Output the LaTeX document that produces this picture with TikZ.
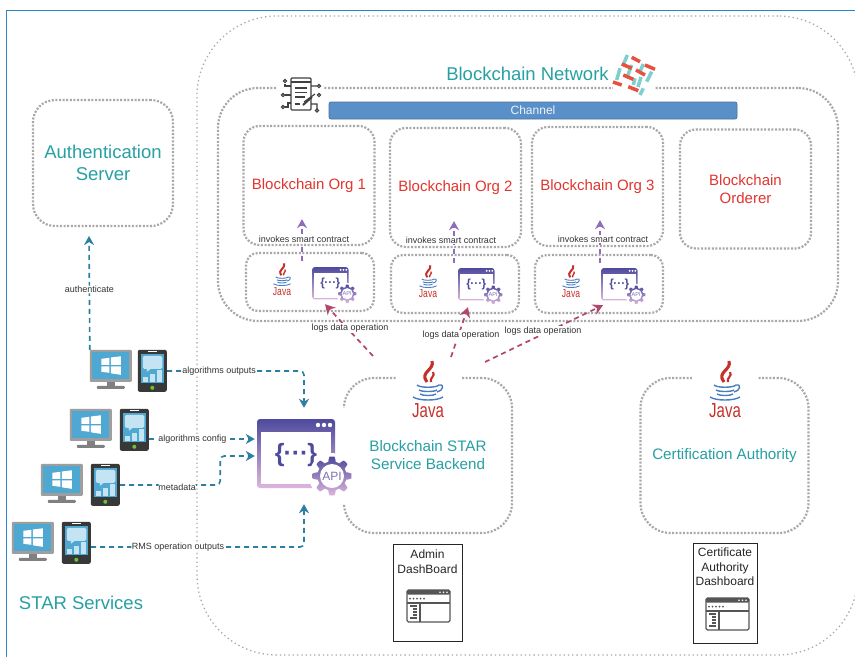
\documentclass[tikz,border=0pt]{standalone}
\usepackage{fontspec}
\setmainfont{Liberation Sans}
\usetikzlibrary{arrows.meta}

\definecolor{framecol}{HTML}{2A86C8}
\definecolor{dotcol}{HTML}{A8A8A8}
\definecolor{tealcol}{HTML}{27A0A4}
\definecolor{orgred}{HTML}{E2352F}
\definecolor{linkteal}{HTML}{2C7F9F}
\definecolor{linkpurple}{HTML}{8F6DBB}
\definecolor{linkred}{HTML}{B2476C}
\definecolor{barblue}{HTML}{5A90C8}
\definecolor{apitop}{HTML}{4E4A9C}
\definecolor{apibot}{HTML}{DDB6DE}
\definecolor{javared}{HTML}{C5302B}
\definecolor{javablue}{HTML}{4A7CC0}
\definecolor{screenblue}{HTML}{4FA8D2}
\definecolor{screenpale}{HTML}{C4E4F3}
\definecolor{iconbar}{HTML}{555555}
\definecolor{logoteal}{HTML}{7FCFD0}
\definecolor{logored}{HTML}{E8503F}

\tikzset{
    pics/javaicon/.style={code={
        \draw[javared, line width=2.2*#1] (4,-31) .. controls (7,-22) and (-9,-20) .. (-1,-10);
        \draw[javared, line width=1.5*#1] (5,-20) .. controls (8,-16) and (1,-14) .. (3,-10);
        \draw[javablue, line width=#1] (-11,-7) .. controls (-8,-4) and (8,-4) .. (11,-7);
        \draw[javablue, line width=#1] (-9,-2) .. controls (-6,0) and (6,0) .. (9,-2);
        \draw[javablue, line width=#1] (-8,2) .. controls (-5,4) and (5,4) .. (8,2);
        \draw[javablue, line width=#1] (-15,5) .. controls (-9,9) and (9,9) .. (15,5);
        \draw[javablue, line width=#1] (11,-7) .. controls (17,-8) and (15,-1) .. (9,0);
        \node[transform shape, yscale=1.35, text=javared, inner sep=0, font=\fontsize{15}{16}\selectfont] at (0,19) {Java};
    }},
    pics/apiicon/.style={code={
        \shade[top color=apitop, bottom color=apibot, rounded corners=3pt] (0,0) rectangle (78,69);
        \fill[white] (4,13) rectangle (74,65);
        \fill[white] (61,6) circle (2.2) (67,6) circle (2.2) (73,6) circle (2.2);
        \node[transform shape, text=apitop, inner sep=0, font=\fontsize{25}{25}\selectfont\bfseries] at (39,36) {\{\kern-1pt···\kern-1pt\}};
        \fill[white] (75,57) circle (23);
        \begin{scope}[shift={(75,57)}]
            \shade[top color=apitop, bottom color=apibot] plot[domain=0:360, samples=145] (\x:{17+2.5*max(min(2*cos(8*\x),1),-1)}) -- cycle;
            \fill[white] (0,0) circle (12);
            \node[transform shape, text=apitop!65!apibot, inner sep=0, font=\fontsize{12}{12}\selectfont] at (0,0) {API};
        \end{scope}
    }},
    pics/desktopicon/.style={code={
        \fill[black!38, rounded corners=1pt] (0,0) rectangle (42,32);
        \fill[screenblue] (2.5,2.5) rectangle (39.5,29);
        \fill[white] (11.5,9) -- (19.5,8) -- (19.5,15) -- (11.5,15) -- cycle;
        \fill[white] (21,7.7) -- (31,6.5) -- (31,15) -- (21,15) -- cycle;
        \fill[white] (11.5,16.5) -- (19.5,16.5) -- (19.5,23) -- (11.5,22) -- cycle;
        \fill[white] (21,16.5) -- (31,16.5) -- (31,25) -- (21,23.5) -- cycle;
        \fill[black!50] (17,32) rectangle (25,36);
        \fill[black!50, rounded corners=1pt] (7,36) rectangle (35,39);
    }},
    pics/phoneicon/.style={code={
        \fill[black!78, rounded corners=2pt] (0,0) rectangle (29,42);
        \fill[white] (10,1.5) rectangle (19,2.5);
        \fill[screenblue] (3,4) rectangle (26,33.5);
        \fill[screenpale, rounded corners=1.5pt] (5,6) rectangle (24.5,19);
        \fill[screenpale] (9,19) -- (13,19) -- (9,22) -- cycle;
        \fill[screenpale] (5,27) rectangle (10,32);
        \fill[screenpale] (12,24) rectangle (17,32);
        \fill[screenpale] (19,20) rectangle (24,32);
        \fill[green!60!yellow!70!black!80!white] (14.5,38) circle (2);
    }},
    pics/dashicon/.style={code={
        \draw[iconbar, line width=1.1pt, fill=white, rounded corners=1.5pt] (0,0) rectangle (43,32);
        \fill[iconbar, rounded corners=1pt] (0,0) rectangle (43,4.5);
        \fill[white] (33,2.2) circle (.8) (36.5,2.2) circle (.8) (40,2.2) circle (.8);
        \fill[iconbar] (3,8.5) circle (1) (6.5,8.5) circle (1) (10,8.5) circle (1) (13.5,8.5) circle (1) (17,8.5) circle (1);
        \draw[iconbar, line width=1.1pt] (0,13) -- (43,13) (13,13) -- (13,32);
        \draw[iconbar, line width=1.1pt] (3,16) -- (10,16) (6,19) -- (10,19) (6,22) -- (10,22) (6,25) -- (10,25) (3,28) -- (10,28);
    }}
}

\begin{document}
\begin{tikzpicture}[
    x=1pt, y=-1pt,
    outerbox/.style={draw=dotcol, line width=1.3pt, dash pattern=on 1.3pt off 3pt, rounded corners=80pt, inner sep=0},
    dotbox/.style={draw=dotcol, line width=2.2pt, dash pattern=on 2pt off 1.6pt, inner sep=0, align=center},
    orgbox/.style={dotbox, rounded corners=16pt, minimum width=131pt, minimum height=119pt, text=orgred, font=\fontsize{15}{18}\selectfont},
    callbox/.style={dotbox, rounded corners=12pt, minimum width=128pt, minimum height=58pt},
    svcbox/.style={dotbox, rounded corners=30pt, minimum width=168pt, minimum height=155pt, text=tealcol, font=\fontsize{15.2}{18}\selectfont},
    dashbox/.style={draw=black!85, line width=.8pt, inner sep=0, fill=white},
    dashtext/.style={inner sep=0, align=center, text=black!85, font=\fontsize{12}{14.5}\selectfont},
    iconspot/.style={inner sep=0, minimum width=#1},
    whitespot/.style={inner sep=0, fill=white},
    titletext/.style={inner sep=0, text=tealcol, align=center, font=\fontsize{18.5}{22}\selectfont},
    linklabel/.style={fill=white, inner sep=.6pt, text=black!80, font=\fontsize{9}{10}\selectfont},
    linkarrow/.style={dash pattern=on 5pt off 4pt, line width=1.6pt, draw=linkteal, rounded corners=4pt, -{Stealth[length=9pt, width=10pt]}},
    callarrow/.style={dash pattern=on 5pt off 4pt, line width=1.6pt, draw=linkpurple, shorten <=-9pt, shorten >=-27pt, -{Stealth[length=9pt, width=10pt]}},
    logarrow/.style={dash pattern=on 5pt off 4pt, line width=1.7pt, draw=linkred, -{Stealth[length=10pt, width=11pt]}}
]
\useasboundingbox[fill=white] (0,0) rectangle (855,657);

% Page frame
\draw[framecol, line width=1.5pt] (6.5,657) -- (6.5,10.5) -- (855,10.5);

% Network and channel groups
\node[outerbox, minimum width=661pt, minimum height=639pt] (network) at (527.5,335.5) {};
\node[dotbox, rounded corners=40pt, minimum width=620pt, minimum height=233pt] (channelgrp) at (528,204.5) {};
\node[titletext] (nettitle) at (527.5,74) {Blockchain Network};
\node[fill=barblue, draw=barblue!80!black, line width=.7pt, rounded corners=2pt, inner sep=0, minimum width=408pt, minimum height=17pt, text=white!90!barblue, font=\fontsize{12}{12}\selectfont] (channel) at (533,110.5) {Channel};

% Network logo
\node[whitespot, minimum width=42pt, minimum height=42pt] (netlogo) at (634,75) {};
\draw[logoteal, line width=3.5pt] (627.3,55) -- (623.3,65) (643.3,64) -- (639.3,73.3) (631.7,65) -- (626.7,78.3) (620,68.3) -- (616.7,80) (651.7,71.7) -- (646.7,81.7) (635,78.3) -- (633.3,85) (643.3,88.3) -- (640,95) (641,77) -- (638,87);
\draw[logored, line width=3.5pt] (631.7,57.3) -- (640,61.7) (645,65) -- (655,69.3) (621.7,64) -- (631.7,68.3) (636,70) -- (645,75) (623.3,75) -- (633.3,79.3) (628.3,86.7) -- (638.3,90.7) (613,82) -- (621.7,85);

% Smart contract icon
\node[whitespot, minimum width=46pt, minimum height=40pt] (contract) at (300,96) {};
\begin{scope}[draw=black!75, line width=1.2pt]
\draw[rounded corners=1pt] (291,78) rectangle (311,110);
\draw (291,82) -- (311,82) (295,88) -- (307,88) (295,92.5) -- (307,92.5) (295,97) -- (305,97) (295,104) -- (300,104);
\draw (285,84) -- (285,86) -- (291,86) (284.5,95) -- (291,95) (285,107) -- (288,107) -- (288,103) -- (291,103);
\draw (311,86) -- (317,86) (317,110) -- (317,104) -- (311,104) (304,102) -- (315,94);
\draw[line width=2pt] (303,105) -- (312,97);
\draw (285,81) circle (1.6) (283,95) circle (1.6) (283,107) circle (1.6) (319,86) circle (1.6) (319,95) circle (1.6) (317,110.5) circle (1.6);
\end{scope}

% Blockchain orgs
\node[orgbox] (org1) at (309,185.5) {Blockchain Org 1};
\node[orgbox] (org2) at (455.5,187.5) {Blockchain Org 2};
\node[orgbox] (org3) at (597.5,186.5) {Blockchain Org 3};
\node[orgbox] (orderer) at (745.5,189) {Blockchain\\Orderer};

% Java and API pairs
\node[callbox] (call1) at (310,282) {};
\node[callbox] (call2) at (455,284) {};
\node[callbox] (call3) at (599,284) {};
\node[iconspot=22pt, minimum height=33pt] (java1) at (282,283) {};
\node[iconspot=22pt, minimum height=33pt] (java2) at (428,285) {};
\node[iconspot=22pt, minimum height=33pt] (java3) at (571,285) {};
\node[iconspot=40pt, minimum height=37pt] (api1) at (332,285.5) {};
\node[iconspot=40pt, minimum height=39pt] (api2) at (478,287.5) {};
\node[iconspot=40pt, minimum height=37pt] (api3) at (621,286.5) {};
\pic[scale=.57] at (282,281) {javaicon=.9pt};
\pic[scale=.57] at (428,283) {javaicon=.9pt};
\pic[scale=.57] at (571,283) {javaicon=.9pt};
\pic[scale=.47] at (312,267) {apiicon};
\pic[scale=.47] at (458,268) {apiicon};
\pic[scale=.47] at (601,268) {apiicon};

% Auth server
\node[dotbox, rounded corners=22pt, minimum width=140pt, minimum height=126pt, text=tealcol, font=\fontsize{18.5}{22}\selectfont] (authsrv) at (103,163) {Authentication\\Server};

% Backend services
\node[svcbox] (backend) at (428,455.5) {Blockchain STAR\\Service Backend};
\node[svcbox] (certauth) at (724.5,455.5) {Certification Authority};
\node[whitespot, minimum width=65pt, minimum height=64pt] (javabackend) at (428,391) {};
\node[whitespot, minimum width=65pt, minimum height=64pt] (javacert) at (724.5,391) {};
\pic at (428,392) {javaicon=1.4pt};
\pic at (725,392) {javaicon=1.4pt};

% Main API
\node[whitespot, minimum width=98pt, minimum height=96pt] (apimain) at (304,456) {};
\pic at (257,419) {apiicon};

% Dashboards
\node[dashbox, minimum width=69pt, minimum height=97pt] (admindash) at (427.5,592.5) {};
\node[dashtext, anchor=north] (admintext) at (427.5,550) {Admin\\DashBoard};
\pic at (407,590) {dashicon};
\node[dashbox, minimum width=64pt, minimum height=100pt] (certdash) at (725,593) {};
\node[dashtext, anchor=north] (certtext) at (725,548) {Certificate\\Authority\\Dashboard};
\pic at (706,598) {dashicon};

% STAR clients
\node[iconspot=42pt, minimum height=40pt] (pc1) at (111,370) {};
\node[iconspot=29pt, minimum height=42pt] (phone1) at (152.5,371) {};
\node[iconspot=42pt, minimum height=40pt] (pc2) at (91,429) {};
\node[iconspot=29pt, minimum height=42pt] (phone2) at (134.5,430) {};
\node[iconspot=42pt, minimum height=40pt] (pc3) at (62,484) {};
\node[iconspot=29pt, minimum height=42pt] (phone3) at (105.5,485) {};
\node[iconspot=42pt, minimum height=40pt] (pc4) at (33,542) {};
\node[iconspot=29pt, minimum height=42pt] (phone4) at (76.5,543) {};
\pic at (pc1.north west) {desktopicon};
\pic at (phone1.north west) {phoneicon};
\pic at (pc2.north west) {desktopicon};
\pic at (phone2.north west) {phoneicon};
\pic at (pc3.north west) {desktopicon};
\pic at (phone3.north west) {phoneicon};
\pic at (pc4.north west) {desktopicon};
\pic at (phone4.north west) {phoneicon};
\node[titletext] (startitle) at (81,603) {STAR Services};

% Client arrows
\coordinate (authtip) at (89,236);
\coordinate (cfgstart) at ([yshift=-9pt]phone2.east);
\coordinate (rmsstart) at ([yshift=-4pt]phone4.east);
\draw[linkarrow] (pc1.north west) -- node[linklabel, pos=.53] (authlabel) {authenticate} (authtip);
\draw[linkarrow] (phone1.east) -| node[linklabel, pos=.19] (outlabel) {algorithms outputs} (apimain.north);
\draw[linkarrow] (cfgstart) -- node[linklabel, pos=.41] (cfglabel) {algorithms config} (cfgstart -| apimain.west);
\draw[linkarrow] (phone3.east) -- node[linklabel, pos=.57, yshift=-2pt] (metalabel) {metadata} ++(100,0) |- (apimain.west);
\draw[linkarrow] (rmsstart) -| node[linklabel, pos=.204] (rmslabel) {RMS operation outputs} (apimain.south);

% Smart contract calls
\draw[callarrow] ([xshift=-8pt]call1.north) -- ([xshift=-7pt]org1.south);
\draw[callarrow] ([xshift=-1pt]call2.north) -- ([xshift=-1.5pt]org2.south);
\draw[callarrow] ([xshift=1pt]call3.north) -- ([xshift=2.5pt]org3.south);
\node[linklabel] (invlabel1) at (304,239) {invokes smart contract};
\node[linklabel] (invlabel2) at (451,240) {invokes smart contract};
\node[linklabel] (invlabel3) at (603,239) {invokes smart contract};

% Log operations
\coordinate (logtail1) at (373,356);
\coordinate (logtail2) at (451,357);
\coordinate (logtail3) at (485,362);
\draw[logarrow] (logtail1) -- ([xshift=-7pt]api1.south);
\draw[logarrow] (logtail2) -- ([xshift=-10pt]api2.south);
\draw[logarrow] (logtail3) -- ([xshift=-18pt]api3.south);
\node[linklabel] (loglabel1) at (350,328) {logs data operation};
\node[linklabel] (loglabel2) at (461,335) {logs data operation};
\node[linklabel] (loglabel3) at (543,331) {logs data operation};

\end{tikzpicture}
\end{document}
